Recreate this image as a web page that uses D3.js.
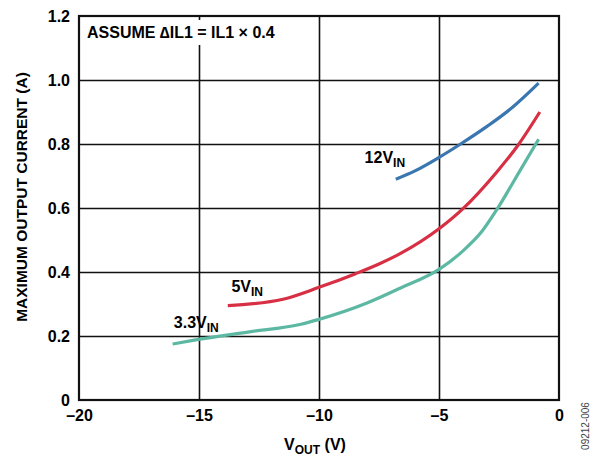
<!DOCTYPE html>
<html>
<head>
<meta charset="utf-8">
<script src="https://cdn.jsdelivr.net/npm/d3@7"></script>
<style>
  body { margin: 0; background: #fff; }
  svg { font-family: "Liberation Sans", Arial, sans-serif; font-weight: bold; }
</style>
</head>
<body>
<div id="chart"></div>
<script>
const xTicks = [-20, -15, -10, -5, 0];
const yTicks = [0, 0.2, 0.4, 0.6, 0.8, 1.0, 1.2];

const vin12 = [[-6.8, 0.69], [-6, 0.716], [-5, 0.758], [-4.1, 0.8], [-3, 0.855], [-1.9, 0.917], [-0.85, 0.99]];
const vin5 = [[-13.8, 0.295], [-11.5, 0.315], [-10, 0.352], [-8.5, 0.394], [-7.5, 0.425], [-6.6, 0.458], [-5, 0.535], [-4, 0.598], [-2.6, 0.712], [-1.7, 0.797], [-0.8, 0.9]];
const vin33 = [[-16.1, 0.175], [-15.2, 0.187], [-12.9, 0.213], [-10.8, 0.236], [-10, 0.252], [-8, 0.303], [-6.6, 0.35], [-5, 0.408], [-4, 0.466], [-3.2, 0.528], [-2.6, 0.594], [-1.6, 0.72], [-0.85, 0.815]];

const series = [
  {name: "12", data: vin12, color: "#3a77b0", label: [-8.1, 0.74]},
  {name: "5", data: vin5, color: "#d72f43", label: [-13.65, 0.338]},
  {name: "3.3", data: vin33, color: "#5db8a3", label: [-16.05, 0.226]}
];

const margin = {top: 16, right: 39, bottom: 59, left: 79};
const W = 598, H = 459;
const width = W - margin.left - margin.right;
const height = H - margin.top - margin.bottom;

const svg = d3.select("#chart").append("svg")
    .attr("width", W)
    .attr("height", H);

const g = svg.append("g")
    .attr("transform", "translate(" + margin.left + "," + margin.top + ")");

const x = d3.scaleLinear().domain([-20, 0]).range([0, width]);
const y = d3.scaleLinear().domain([0, 1.2]).range([height, 0]);

// grid lines
g.append("g")
    .attr("transform", "translate(0," + height + ")")
    .call(d3.axisBottom(x).tickValues(xTicks.slice(1, -1)).tickSize(-height).tickFormat(""))
    .call(a => a.select(".domain").remove())
    .selectAll("line").attr("stroke", "#111").attr("stroke-width", 1.6);

g.append("g")
    .call(d3.axisLeft(y).tickValues(yTicks.slice(1, -1)).tickSize(-width).tickFormat(""))
    .call(a => a.select(".domain").remove())
    .selectAll("line").attr("stroke", "#111").attr("stroke-width", 1.6);

// title box
g.append("rect")
    .attr("x", 4).attr("y", 4).attr("width", 205).attr("height", 25)
    .attr("fill", "#fff");
g.append("text")
    .attr("x", 8).attr("y", 22)
    .style("font-size", "16px")
    .text("ASSUME \u2206IL1 = IL1 \u00d7 0.4");

// frame
g.append("rect")
    .attr("width", width).attr("height", height)
    .attr("fill", "none").attr("stroke", "#111").attr("stroke-width", 2.2);

// tick labels
g.append("g")
    .attr("transform", "translate(0," + height + ")")
    .call(d3.axisBottom(x).tickValues(xTicks).tickSize(0).tickPadding(10)
      .tickFormat(d => d < 0 ? "\u2013" + Math.abs(d) : d))
    .call(a => a.select(".domain").remove())
    .selectAll("text")
    .style("font-size", "16px").style("font-family", "inherit").attr("fill", "#000");

g.append("g")
    .call(d3.axisLeft(y).tickValues(yTicks).tickSize(0).tickPadding(9)
      .tickFormat(d => d === 0 ? "0" : d3.format(".1f")(d)))
    .call(a => a.select(".domain").remove())
    .selectAll("text")
    .style("font-size", "16px").style("font-family", "inherit").attr("fill", "#000");

// curves
const line = d3.line()
    .x(d => x(d[0]))
    .y(d => y(d[1]))
    .curve(d3.curveMonotoneX);

g.selectAll(".curve")
    .data(series)
    .join("path")
    .attr("class", "curve")
    .attr("d", d => line(d.data))
    .attr("fill", "none")
    .attr("stroke", d => d.color)
    .attr("stroke-width", 3.2);

// curve labels
const lbl = g.selectAll(".lbl")
    .data(series)
    .join("text")
    .attr("class", "lbl")
    .attr("x", d => x(d.label[0]))
    .attr("y", d => y(d.label[1]))
    .style("font-size", "16px");
lbl.append("tspan").text(d => d.name + "V");
lbl.append("tspan").attr("dy", 4).style("font-size", "12px").text("IN");

// axis titles
svg.append("text")
    .attr("transform", "translate(27,197)rotate(-90)")
    .attr("text-anchor", "middle")
    .style("font-size", "15.5px")
    .text("MAXIMUM OUTPUT CURRENT (A)");

const xt = svg.append("text")
    .attr("x", 315)
    .attr("y", 450)
    .attr("text-anchor", "middle")
    .style("font-size", "16px");
xt.append("tspan").text("V");
xt.append("tspan").attr("dy", 4).style("font-size", "12px").text("OUT");
xt.append("tspan").attr("dy", -4).text(" (V)");

// figure code
svg.append("text")
    .attr("transform", "translate(589,426)rotate(-90)")
    .attr("text-anchor", "middle")
    .style("font-size", "10px")
    .style("font-weight", "normal")
    .attr("fill", "#444")
    .text("09212-006");
</script>
</body>
</html>
